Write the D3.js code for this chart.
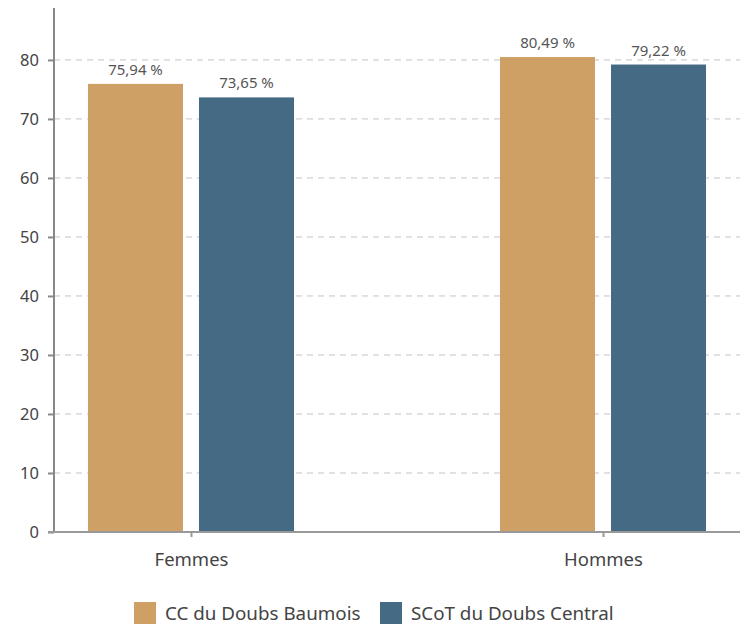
<!DOCTYPE html>
<html>
<head>
<meta charset="utf-8">
<script src="https://cdn.jsdelivr.net/npm/d3@7"></script>
<style>
  body { margin: 0; background: #fff; }
  text { font-family: "Noto Sans", "Open Sans", sans-serif; }
</style>
</head>
<body>
<div id="chart"></div>
<script>
// data
var categories = ["Femmes", "Hommes"];
var seriesNames = ["CC du Doubs Baumois", "SCoT du Doubs Central"];
var seriesColors = ["#cea066", "#456b84"];
var ccValues = [75.94, 80.49];
var scotValues = [73.65, 79.22];
var yTicks = [0, 10, 20, 30, 40, 50, 60, 70, 80];

var svgWidth = 742;
var svgHeight = 629;

var margin = { top: 8, left: 54, right: 2, bottom: 97 };
var width = svgWidth - margin.left - margin.right;
var height = svgHeight - margin.top - margin.bottom;

var rows = [];
categories.forEach(function (c, i) {
  rows.push({ cat: c, series: seriesNames[0], value: ccValues[i] });
  rows.push({ cat: c, series: seriesNames[1], value: scotValues[i] });
});

var svg = d3.select("#chart")
  .append("svg")
  .attr("width", svgWidth)
  .attr("height", svgHeight);

var chartGroup = svg.append("g")
  .attr("transform", `translate(${margin.left}, ${margin.top})`);

var x0 = d3.scalePoint()
  .domain(categories)
  .range([0, width])
  .padding(0.3325);

var x1 = d3.scaleBand()
  .domain(seriesNames)
  .range([-103, 103])
  .paddingInner(0.144);

var y = d3.scaleLinear()
  .domain([0, 88.8])
  .range([height, 0]);

var color = d3.scaleOrdinal().domain(seriesNames).range(seriesColors);

// grid lines
chartGroup.selectAll(".grid")
  .data(yTicks)
  .enter()
  .append("line")
  .attr("x1", 0)
  .attr("x2", width)
  .attr("y1", d => y(d))
  .attr("y2", d => y(d))
  .attr("stroke", "#c4c4c4")
  .attr("stroke-width", 1)
  .attr("stroke-dasharray", "6,5");

// bars
chartGroup.selectAll(".bar")
  .data(rows)
  .enter()
  .append("rect")
  .attr("x", d => x0(d.cat) + x1(d.series))
  .attr("width", x1.bandwidth())
  .attr("y", d => y(d.value))
  .attr("height", d => height - y(d.value))
  .attr("fill", d => color(d.series));

// value labels
chartGroup.selectAll(".val")
  .data(rows)
  .enter()
  .append("text")
  .attr("x", d => x0(d.cat) + x1(d.series) + x1.bandwidth() / 2)
  .attr("y", d => y(d.value) - 9)
  .attr("text-anchor", "middle")
  .attr("font-size", "15px")
  .attr("fill", "#555")
  .text(d => d3.format(".2f")(d.value).replace(".", ",") + " %");

// y axis
var yAxis = d3.axisLeft(y).tickValues(yTicks).tickSize(6).tickPadding(9);
var yG = chartGroup.append("g").call(yAxis);
yG.select(".domain").attr("stroke", "#888").attr("stroke-width", 2)
  .attr("d", `M0,${height}V0`);
yG.selectAll(".tick line").attr("stroke", "#888").attr("stroke-width", 2);
yG.selectAll(".tick text").attr("font-size", "16.5px").attr("fill", "#444")
  .style("font-family", "'Noto Sans', sans-serif");

// x axis
var xAxis = d3.axisBottom(x0).tickSize(5).tickPadding(16);
var xG = chartGroup.append("g")
  .attr("transform", `translate(0, ${height})`)
  .call(xAxis);
xG.select(".domain").attr("stroke", "#999").attr("stroke-width", 2)
  .attr("d", `M-6,0H${width}`);
xG.selectAll(".tick line").attr("stroke", "#999").attr("stroke-width", 2);
xG.selectAll(".tick text").attr("font-size", "18.5px").attr("fill", "#444")
  .style("font-family", "'Noto Sans', sans-serif");

// legend
var legendX = [134, 380];
var legend = svg.selectAll(".legend")
  .data(seriesNames)
  .enter()
  .append("g")
  .attr("transform", (d, i) => `translate(${legendX[i]}, 602)`);

legend.append("rect")
  .attr("width", 22)
  .attr("height", 22)
  .attr("fill", d => color(d));

legend.append("text")
  .attr("x", 31)
  .attr("y", 18)
  .attr("font-size", "18.8px")
  .attr("fill", "#444")
  .text(d => d);
</script>
</body>
</html>
